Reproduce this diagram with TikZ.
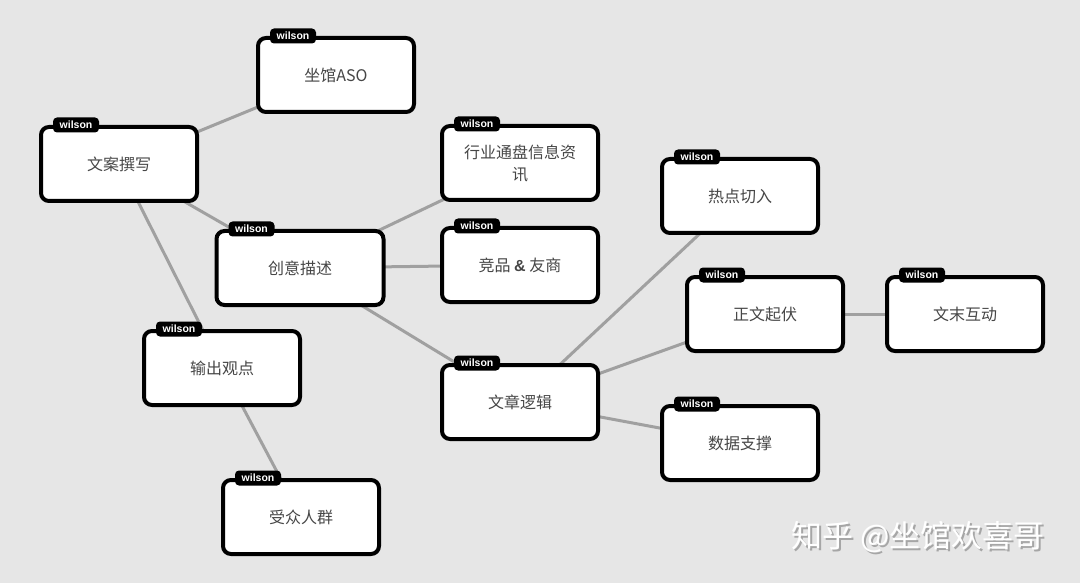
\documentclass[tikz,border=0pt]{standalone}
\usepackage{fontspec}
\setmainfont{Noto Sans CJK SC}
\newfontfamily\tagfont{Liberation Sans}
\usetikzlibrary{backgrounds}
\definecolor{bg}{RGB}{230,230,230}
\definecolor{edge}{RGB}{160,160,160}
\definecolor{txt}{RGB}{70,70,70}
\tikzset{
  card/.style={draw=black, fill=white, line width=4pt, rounded corners=8pt,
    minimum width=156pt, minimum height=74pt, align=center, text=txt,
    font=\fontsize{16}{22}\selectfont, inner sep=2pt},
  tagbox/.style={fill=black, text=white, rounded corners=4pt, minimum width=46pt,
    minimum height=15pt, inner sep=0pt, font=\tagfont\bfseries\fontsize{10.5}{10.5}\selectfont},
  link/.style={draw=edge, line width=3pt},
  wm/.style={font=\fontsize{31}{31}\selectfont, anchor=west}
}
\begin{document}
\begin{tikzpicture}[x=1pt,y=-1pt]
\useasboundingbox (0,0) rectangle (1080,583);
% nodes
\node[card] (aso) at (336,75) {坐馆ASO};
\node[card] (wa) at (119,164) {文案撰写};
\node[card] (hy) at (520,163) {行业通盘信息资\\讯};
\node[card, minimum width=167pt] (cy) at (300,268) {创意描述};
\node[card] (jp) at (520,265) {竞品 \textbf{\tagfont\&} 友商};
\node[card] (rd) at (740,196) {热点切入};
\node[card] (zw) at (765,314) {正文起伏};
\node[card] (wm) at (965,314) {文末互动};
\node[card] (sc) at (222,368) {输出观点};
\node[card] (lj) at (520,402) {文章逻辑};
\node[card] (sj) at (740,443) {数据支撑};
\node[card] (sz) at (301,517) {受众人群};
% tags
\foreach \n in {aso,wa,hy,cy,jp,rd,zw,wm,sc,lj,sj,sz}{
  \node[tagbox] (tag-\n) at ([xshift=37pt]\n.north west) {wilson};
}
% background and edges
\begin{scope}[on background layer]
\fill[bg] (0,0) rectangle (1080,583);
\draw[link] (wa.center) -- (aso.center);
\draw[link] (wa.center) -- (cy.center);
\draw[link] (wa.center) -- (sc.center);
\draw[link] (cy.center) -- (hy.center);
\draw[link] (cy.center) -- (jp.center);
\draw[link] (cy.center) -- (lj.center);
\draw[link] (lj.center) -- (rd.center);
\draw[link] (lj.center) -- (zw.center);
\draw[link] (lj.center) -- (sj.center);
\draw[link] (zw.center) -- (wm.center);
\draw[link] (sc.center) -- (sz.center);
\end{scope}
% watermark
\node[wm, text=gray!70] (wmark-s) at (790,539) {知乎 @坐馆欢喜哥};
\node[wm, text=white] (wmark) at (788,537) {知乎 @坐馆欢喜哥};
\end{tikzpicture}
\end{document}
